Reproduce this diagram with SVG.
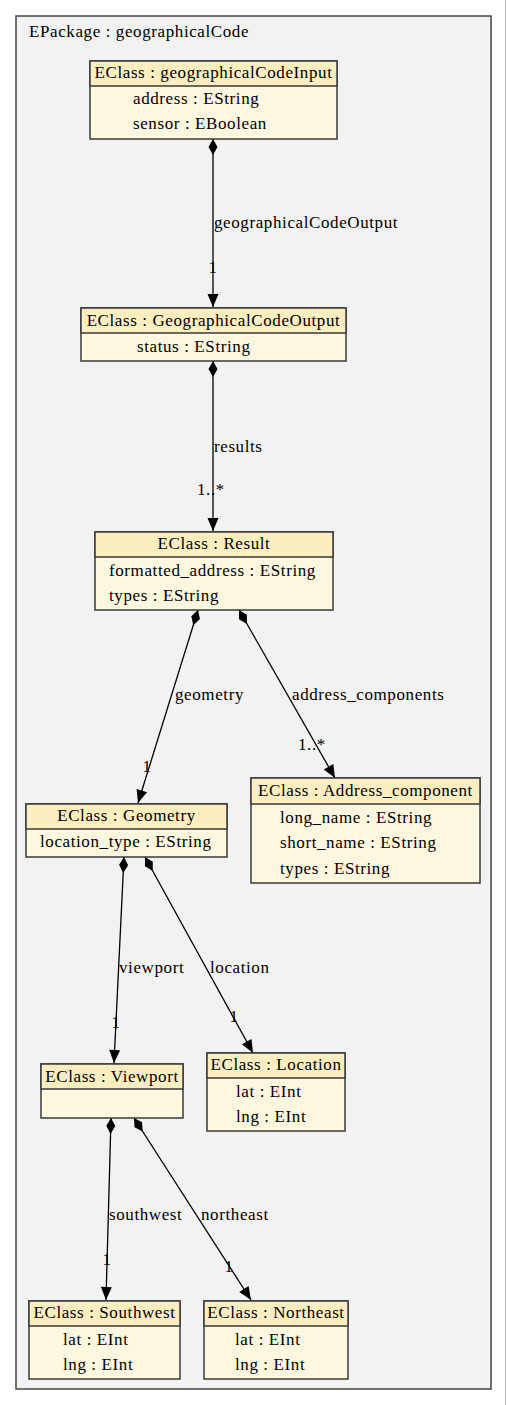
<svg xmlns="http://www.w3.org/2000/svg" width="507" height="1405" viewBox="0 0 507 1405">
<style>
text{font-family:"Liberation Serif","Times New Roman",serif;font-size:17px;letter-spacing:0.6px;fill:#000}
.hd{fill:#fdeec2;stroke:#3a3a3a;stroke-width:1.5}
.bd{fill:#fef7e0;stroke:#3a3a3a;stroke-width:1.5}
.c{text-anchor:middle}
.e{fill:none;stroke:#000;stroke-width:1.3;marker-start:url(#dia);marker-end:url(#arr)}
</style>
<defs>
<marker id="dia" markerUnits="userSpaceOnUse" markerWidth="20" markerHeight="12" refX="0" refY="5" orient="auto" overflow="visible">
<path d="M0,5 L8,0.5 L16,5 L8,9.5 Z" fill="#000"/>
</marker>
<marker id="arr" markerUnits="userSpaceOnUse" markerWidth="14" markerHeight="12" refX="13" refY="5.5" orient="auto" overflow="visible">
<path d="M0,0 L13,5.5 L0,11 Z" fill="#000"/>
</marker>
</defs>
<rect x="0" y="0" width="507" height="1405" fill="#fff"/>
<line x1="505.5" y1="0" x2="505.5" y2="1405" stroke="#bbb" stroke-width="1"/>
<g id="package">
<rect x="16" y="16" width="475" height="1373" fill="#f2f2f2" stroke="#444" stroke-width="1.5"/>
<text x="29" y="37">EPackage : geographicalCode</text>
</g>
<g id="connectors">
<path class="e" d="M213,139 L213,307"/>
<text x="214" y="228">geographicalCodeOutput</text>
<text class="c" x="213" y="273">1</text>
<path class="e" d="M213,361 L213,531"/>
<text x="214" y="452">results</text>
<text x="197" y="495">1..*</text>
<path class="e" d="M198,610 L138,803"/>
<text x="175" y="700">geometry</text>
<text class="c" x="147" y="772">1</text>
<path class="e" d="M239,610 L335,778"/>
<text x="292" y="700">address_components</text>
<text x="298" y="750">1..*</text>
<path class="e" d="M124,857 L114,1063"/>
<text x="119" y="973">viewport</text>
<text class="c" x="116" y="1028">1</text>
<path class="e" d="M145,857 L253,1053"/>
<text x="210" y="973">location</text>
<text class="c" x="234" y="1022">1</text>
<path class="e" d="M111,1118 L106,1300"/>
<text x="109" y="1220">southwest</text>
<text class="c" x="107" y="1265">1</text>
<path class="e" d="M134,1118 L251,1300"/>
<text x="201" y="1220">northeast</text>
<text class="c" x="229" y="1272">1</text>
</g>
<g id="geographicalCodeInput">
<rect class="bd" x="90" y="61" width="247" height="78"/>
<rect class="hd" x="90" y="61" width="247" height="25"/>
<text class="c" x="213.5" y="78">EClass : geographicalCodeInput</text>
<text x="133" y="104">address : EString</text>
<text x="133" y="129">sensor : EBoolean</text>
</g>
<g id="GeographicalCodeOutput">
<rect class="bd" x="81" y="308" width="265" height="53"/>
<rect class="hd" x="81" y="308" width="265" height="25"/>
<text class="c" x="213.5" y="326">EClass : GeographicalCodeOutput</text>
<text x="137" y="352">status : EString</text>
</g>
<g id="Result">
<rect class="bd" x="95" y="532" width="238" height="78"/>
<rect class="hd" x="95" y="532" width="238" height="25"/>
<text class="c" x="214" y="549">EClass : Result</text>
<text x="109" y="576">formatted_address : EString</text>
<text x="109" y="601">types : EString</text>
</g>
<g id="Address_component">
<rect class="bd" x="251" y="778" width="229" height="105"/>
<rect class="hd" x="251" y="778" width="229" height="26"/>
<text class="c" x="365.5" y="796">EClass : Address_component</text>
<text x="280" y="823">long_name : EString</text>
<text x="280" y="848">short_name : EString</text>
<text x="280" y="874">types : EString</text>
</g>
<g id="Geometry">
<rect class="bd" x="26" y="804" width="201" height="53"/>
<rect class="hd" x="26" y="804" width="201" height="25"/>
<text class="c" x="126.5" y="821">EClass : Geometry</text>
<text x="40" y="847">location_type : EString</text>
</g>
<g id="Viewport">
<rect class="bd" x="41" y="1064" width="142" height="54"/>
<rect class="hd" x="41" y="1064" width="142" height="25"/>
<text class="c" x="112" y="1082">EClass : Viewport</text>
</g>
<g id="Location">
<rect class="bd" x="207" y="1053" width="138" height="78"/>
<rect class="hd" x="207" y="1053" width="138" height="25"/>
<text class="c" x="276" y="1070">EClass : Location</text>
<text x="236" y="1097">lat : EInt</text>
<text x="236" y="1122">lng : EInt</text>
</g>
<g id="Southwest">
<rect class="bd" x="29" y="1301" width="151" height="78"/>
<rect class="hd" x="29" y="1301" width="151" height="25"/>
<text class="c" x="104.5" y="1318">EClass : Southwest</text>
<text x="63" y="1345">lat : EInt</text>
<text x="63" y="1370">lng : EInt</text>
</g>
<g id="Northeast">
<rect class="bd" x="204" y="1301" width="144" height="78"/>
<rect class="hd" x="204" y="1301" width="144" height="25"/>
<text class="c" x="276" y="1318">EClass : Northeast</text>
<text x="235" y="1345">lat : EInt</text>
<text x="235" y="1370">lng : EInt</text>
</g>
</svg>
